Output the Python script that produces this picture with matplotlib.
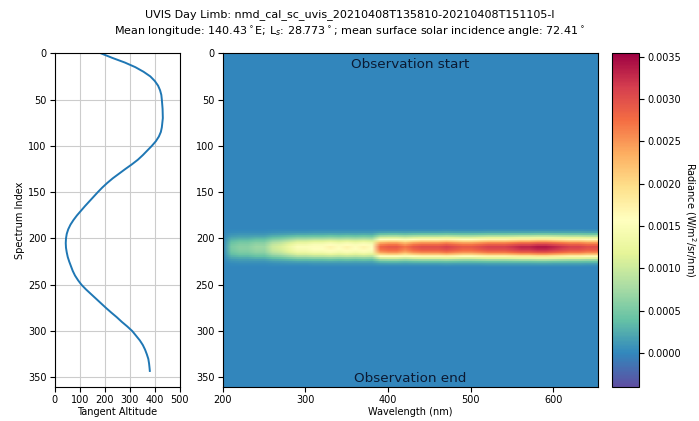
import numpy as np
import matplotlib
matplotlib.use('Agg')
import matplotlib.pyplot as plt

plt.rcParams['font.size'] = 7
plt.rcParams['xtick.major.pad'] = 2.5
plt.rcParams['ytick.major.pad'] = 2.5

# --- data ---
# tangent altitude along the observation
spec_index = [0, 5, 10, 15, 20, 25, 30, 35, 40, 45, 50, 60, 70, 80, 85, 90, 95, 100, 105, 110,
              115, 120, 125, 130, 135, 140, 145, 150, 155, 160, 165, 170, 175, 180, 185, 190,
              195, 200, 205, 210, 215, 220, 225, 230, 235, 240, 245, 250, 255, 260, 265, 270,
              275, 280, 285, 290, 295, 300, 305, 310, 315, 320, 325, 330, 335, 340, 343]
tangent_alt = [184, 230, 280, 322, 355, 382, 400, 413, 421, 426, 428, 431, 432, 428, 424, 416,
               404, 388, 370, 352, 332, 308, 282, 257, 232, 210, 190, 172, 155, 138, 121, 105,
               89, 75, 63, 54, 48, 45, 44, 45, 48, 52, 58, 65, 72, 81, 93, 107, 125, 145, 165,
               185, 205, 226, 248, 268, 290, 310, 325, 340, 352, 361, 368, 374, 377, 379, 380]

# peak radiance of the limb band per wavelength (nm)
wavelength = [200, 210, 220, 230, 240, 250, 260, 270, 280, 290, 300, 310, 320, 330, 340, 350,
              360, 370, 380, 390, 400, 410, 420, 430, 440, 450, 460, 470, 480, 490, 500, 510,
              520, 530, 540, 550, 560, 570, 580, 590, 600, 610, 620, 630, 640, 650]
peak_radiance = [0.0000, 0.0005, 0.0006, 0.0006, 0.0007, 0.0007, 0.0010, 0.0011, 0.0013, 0.0015,
                 0.0015, 0.0016, 0.0016, 0.0017, 0.0016, 0.0017, 0.0016, 0.0017, 0.0016, 0.0028,
                 0.0029, 0.0029, 0.0027, 0.0029, 0.0030, 0.0030, 0.0030, 0.0031, 0.0030, 0.0029,
                 0.0029, 0.0030, 0.0031, 0.0031, 0.0031, 0.0032, 0.0033, 0.0033, 0.0034, 0.0034,
                 0.0033, 0.0032, 0.0031, 0.0031, 0.0030, 0.0030]

# relative band shape across spectrum index
band_rows = [188, 190, 192, 194, 196, 198, 200, 202, 204, 206, 208, 210, 212, 214, 216, 218,
             220, 222, 224, 226, 228, 230]
band_shape = [0.0, 0.02, 0.06, 0.13, 0.24, 0.38, 0.55, 0.72, 0.86, 0.94, 1.0, 0.98, 0.94, 0.86,
              0.72, 0.55, 0.38, 0.24, 0.13, 0.06, 0.02, 0.0]

n_spectra = 360
vmin, vmax = -0.0004, 0.00354

# build the radiance image (rows = spectrum index)
img = np.zeros((n_spectra, len(wavelength)))
for r, s in zip(band_rows, band_shape):
    img[r, :] = s * np.array(peak_radiance)
    img[r + 1, :] = s * np.array(peak_radiance)

fig = plt.figure(figsize=(6.99, 4.21), dpi=100)

# left panel: tangent altitude
ax1 = fig.add_axes([0.0783, 0.0815, 0.179, 0.792])
ax1.plot(tangent_alt, spec_index, color='#1f77b4', lw=1.4)
ax1.set_xlim(0, 500)
ax1.set_ylim(360, 0)
ax1.set_xticks([0, 100, 200, 300, 400, 500])
ax1.set_yticks([0, 50, 100, 150, 200, 250, 300, 350])
ax1.grid(True, color='#cccccc', lw=0.8)
ax1.set_xlabel('Tangent Altitude', labelpad=1.5)
ax1.set_ylabel('Spectrum Index', labelpad=2)

# right panel: radiance image
ax2 = fig.add_axes([0.3186, 0.0815, 0.537, 0.792])
im = ax2.imshow(img, cmap='Spectral_r', vmin=vmin, vmax=vmax, aspect='auto',
                interpolation='bilinear',
                extent=[wavelength[0] - 5, wavelength[-1] + 5, n_spectra, 0])
ax2.set_xlim(200, 654)
ax2.set_ylim(360, 0)
ax2.set_yticks([0, 50, 100, 150, 200, 250, 300, 350])
ax2.set_xticks([200, 300, 400, 500, 600])
ax2.set_xlabel('Wavelength (nm)', labelpad=1.5)
ax2.text(0.5, 0.965, 'Observation start', transform=ax2.transAxes, ha='center', va='center',
         fontsize=9.7, color='#0b1a33')
ax2.text(0.5, 0.025, 'Observation end', transform=ax2.transAxes, ha='center', va='center',
         fontsize=9.7, color='#0b1a33')

# colorbar
cax = fig.add_axes([0.875, 0.0815, 0.0395, 0.792])
cb = fig.colorbar(im, cax=cax)
cb.set_ticks([0.0, 0.0005, 0.0010, 0.0015, 0.0020, 0.0025, 0.0030, 0.0035])
cb.ax.set_yticklabels(['0.0000', '0.0005', '0.0010', '0.0015', '0.0020', '0.0025', '0.0030', '0.0035'])
cb.set_label('Radiance (W/m$^2$/sr/nm)', rotation=270, labelpad=12)

fig.text(0.5, 0.978,
         'UVIS Day Limb: nmd_cal_sc_uvis_20210408T135810-20210408T151105-l\n'
         'Mean longitude: 140.43$^\\circ$E; L$_s$: 28.773$^\\circ$; '
         'mean surface solar incidence angle: 72.41$^\\circ$',
         ha='center', va='top', fontsize=8, linespacing=1.45)

fig.savefig('out.png', dpi=100)
